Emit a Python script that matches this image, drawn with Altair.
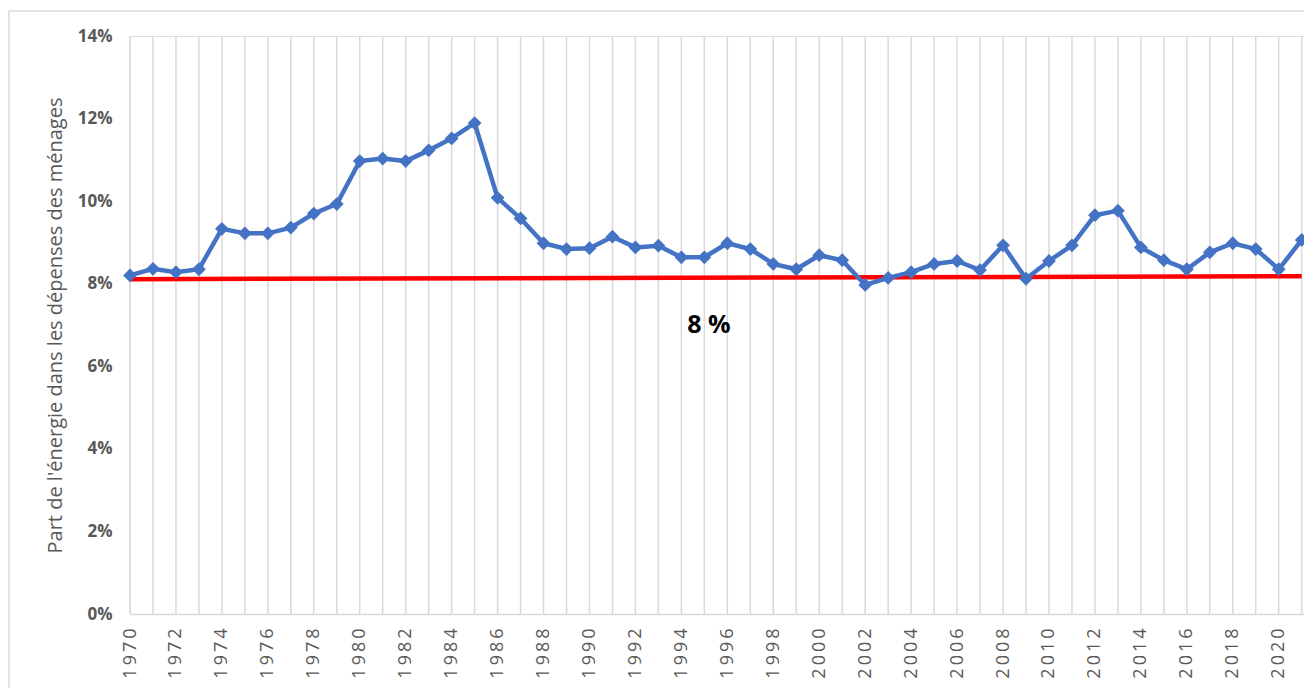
import altair as alt
import pandas as pd

years = list(range(1970, 2022))
share = [8.20, 8.36, 8.28, 8.35, 9.33, 9.22, 9.22, 9.36, 9.70, 9.93,
         10.97, 11.03, 10.97, 11.23, 11.52, 11.89, 10.08, 9.58, 8.98, 8.84,
         8.86, 9.14, 8.88, 8.92, 8.64, 8.64, 8.98, 8.84, 8.48, 8.35,
         8.69, 8.57, 7.97, 8.14, 8.28, 8.48, 8.55, 8.33, 8.93, 8.12,
         8.55, 8.93, 9.66, 9.77, 8.88, 8.57, 8.35, 8.76, 8.98, 8.84,
         8.35, 9.06]
trend_years = [1970, 2021]
trend_values = [8.11, 8.18]
label_year = [1995.2]
label_value = [7.0]
label_text = ["8 %"]

df = pd.DataFrame({"annee": years, "part": [v / 100 for v in share]})
df_trend = pd.DataFrame({"annee": trend_years, "part": [v / 100 for v in trend_values]})
df_label = pd.DataFrame({"annee": label_year, "part": [v / 100 for v in label_value], "txt": label_text})

FONT = "Open Sans"
GREY = "#595959"

x_scale = alt.Scale(domain=[1970, 2021.1], nice=False, zero=False)
y_scale = alt.Scale(domain=[0, 0.14], nice=False)

SP = "\u2009"
x_axis = alt.Axis(
    values=years,
    format="d",
    labelExpr=(
        "datum.value % 2 == 0 ? substring(datum.label,0,1) + '" + SP + "' + substring(datum.label,1,2) + '"
        + SP + "' + substring(datum.label,2,3) + '" + SP + "' + substring(datum.label,3,4) : ''"
    ),
    labelAngle=270,
    labelFont=FONT,
    labelFontSize=18,
    labelColor=GREY,
    labelPadding=14,
    labelOverlap=False,
    labelFlush=False,
    ticks=False,
    grid=False,
    domain=True,
    domainColor="#d9d9d9",
    domainWidth=1.5,
    title=None,
)
y_axis = alt.Axis(
    values=[0, 0.02, 0.04, 0.06, 0.08, 0.10, 0.12, 0.14],
    format=".0%",
    labelFont=FONT,
    labelFontSize=17,
    labelFontWeight="bold",
    labelColor=GREY,
    labelPadding=18,
    ticks=False,
    grid=False,
    domain=False,
    title="Part de l'énergie dans les dépenses des ménages",
    titleFont=FONT,
    titleFontSize=20,
    titleFontWeight="normal",
    titleColor=GREY,
    titlePadding=12,
)

base = alt.Chart(df)

grid = base.mark_rule(color="#d9d9d9", strokeWidth=1.5).encode(
    x=alt.X("annee:Q", scale=x_scale, axis=x_axis),
    y=alt.value(0),
    y2=alt.value(578),
)
line = base.mark_line(color="#4472C4", strokeWidth=4.5).encode(
    x=alt.X("annee:Q", scale=x_scale),
    y=alt.Y("part:Q", scale=y_scale, axis=y_axis),
)
points = base.mark_point(shape="diamond", filled=True, size=190, color="#4472C4", opacity=1).encode(
    x=alt.X("annee:Q", scale=x_scale),
    y=alt.Y("part:Q", scale=y_scale),
)
trend = alt.Chart(df_trend).mark_line(color="#FF0000", strokeWidth=4.5).encode(
    x=alt.X("annee:Q", scale=x_scale),
    y=alt.Y("part:Q", scale=y_scale),
)
label = alt.Chart(df_label).mark_text(font=FONT, fontSize=25, fontWeight="bold", color="#000000").encode(
    x=alt.X("annee:Q", scale=x_scale),
    y=alt.Y("part:Q", scale=y_scale),
    text="txt:N",
)
frame = alt.Chart(df_label).mark_rect(fill="white", fillOpacity=0, stroke="#d9d9d9", strokeWidth=1.5).encode(
    x=alt.value(-121), x2=alt.value(1300), y=alt.value(-25), y2=alt.value(700)
)

chart = alt.layer(frame, grid, trend, line, points, label).properties(
    width=1174,
    height=578,
    autosize=alt.AutoSizeParams(type="none"),
    padding={"left": 122, "top": 28, "right": 0, "bottom": 74},
).configure_view(stroke=None).configure(background="white")

chart.save("out.html", embed_options={"renderer": "svg", "actions": False})
